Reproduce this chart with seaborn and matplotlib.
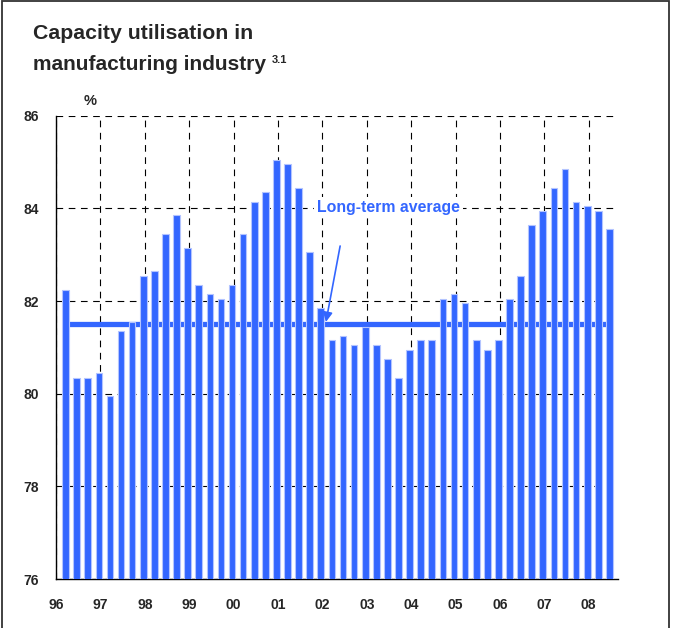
import numpy as np
import pandas as pd
import seaborn as sns
import matplotlib.pyplot as plt
from matplotlib.patches import Rectangle

# quarterly capacity utilisation, 1996Q1 - 2008Q2 (%)
years = [y for y in range(1996, 2009) for _ in range(4)][:50]
quarters = [1, 2, 3, 4] * 13
quarters = quarters[:50]
utilisation = [82.25, 80.35, 80.35, 80.45, 79.95, 81.35, 81.55, 82.55,
               82.65, 83.45, 83.85, 83.15, 82.35, 82.15, 82.05, 82.35,
               83.45, 84.15, 84.35, 85.05, 84.95, 84.45, 83.05, 81.85,
               81.15, 81.25, 81.05, 81.45, 81.05, 80.75, 80.35, 80.95,
               81.15, 81.15, 82.05, 82.15, 81.95, 81.15, 80.95, 81.15,
               82.05, 82.55, 83.65, 83.95, 84.45, 84.85, 84.15, 84.05,
               83.95, 83.55]
long_term_avg = 81.5
year_ticks = list(range(1996, 2009))
year_labels = ['96', '97', '98', '99', '00', '01', '02', '03', '04', '05', '06', '07', '08']
y_ticks = [76, 78, 80, 82, 84, 86]

blue = '#3366ff'

sns.set_style('white')
plt.rcParams['font.family'] = ['Liberation Sans', 'DejaVu Sans']
plt.rcParams['font.weight'] = 'bold'

df = pd.DataFrame({'year': years, 'q': quarters, 'value': utilisation})
# bars sit towards the end of each quarter
df['pos'] = df['year'] + (df['q'] - 1) / 4 + 0.215

fig = plt.figure(figsize=(6.75, 6.28), dpi=100)
ax = fig.add_axes([0.083, 0.078, 0.8326, 0.7375])

sns.barplot(data=df, x='pos', y='value', native_scale=True, width=0.6,
            color=blue, saturation=1, edgecolor='#b3c4ff', linewidth=0.8,
            errorbar=None, ax=ax)
for p in ax.patches:
    p.set_zorder(3)

# long-term average line, spanning first to last bar
ax.hlines(long_term_avg, df['pos'].iloc[0] - 0.075, df['pos'].iloc[-1] + 0.075,
          color=blue, lw=3.8, zorder=2)

ax.set_xlim(1996, 2008.66)
ax.set_ylim(76, 86)
ax.set_xticks(year_ticks)
ax.set_xticklabels(year_labels)
ax.set_yticks(y_ticks)
ax.set_xlabel('')
ax.set_ylabel('')
ax.tick_params(axis='both', direction='in', length=5, width=0.8, color='black',
               labelsize=10)
ax.tick_params(axis='x', pad=14)
ax.tick_params(axis='y', pad=12)
for lab in ax.get_xticklabels() + ax.get_yticklabels():
    lab.set_fontweight('bold')

ax.grid(True, color='black', linestyle=(0, (6, 5)), linewidth=0.8)
ax.set_axisbelow(True)
for s in ['top', 'right']:
    ax.spines[s].set_visible(False)
for s in ['left', 'bottom']:
    ax.spines[s].set_color('black')
    ax.spines[s].set_linewidth(1.0)

# annotation
ax.text(2001.88, 83.93, 'Long-term average', color=blue, fontsize=11.4,
        fontweight='bold', va='baseline', ha='left', zorder=5,
        bbox=dict(facecolor='white', edgecolor='none', pad=2))
ax.annotate('', xy=(2002.08, 81.55), xytext=(2002.40, 83.19),
            arrowprops=dict(arrowstyle='-|>', color=blue, lw=1.2,
                            mutation_scale=14, shrinkA=0, shrinkB=0),
            zorder=5)

# titles
fig.text(0.049, 0.938, 'Capacity utilisation in', fontsize=15.3, fontweight='bold',
         va='baseline', ha='left')
fig.text(0.049, 0.8885, 'manufacturing industry', fontsize=15, fontweight='bold',
         va='baseline', ha='left')
fig.text(0.403, 0.8997, '3.1', fontsize=8, fontweight='bold', va='baseline', ha='left')
fig.text(0.133, 0.833, '%', fontsize=10.5, fontweight='bold', va='baseline', ha='center')

# frame around the figure
fig.patches.append(Rectangle((0.003, -0.05), 0.988, 1.048, transform=fig.transFigure,
                             fill=False, edgecolor='#333333', lw=1.3))

fig.savefig('out.png', dpi=100)
